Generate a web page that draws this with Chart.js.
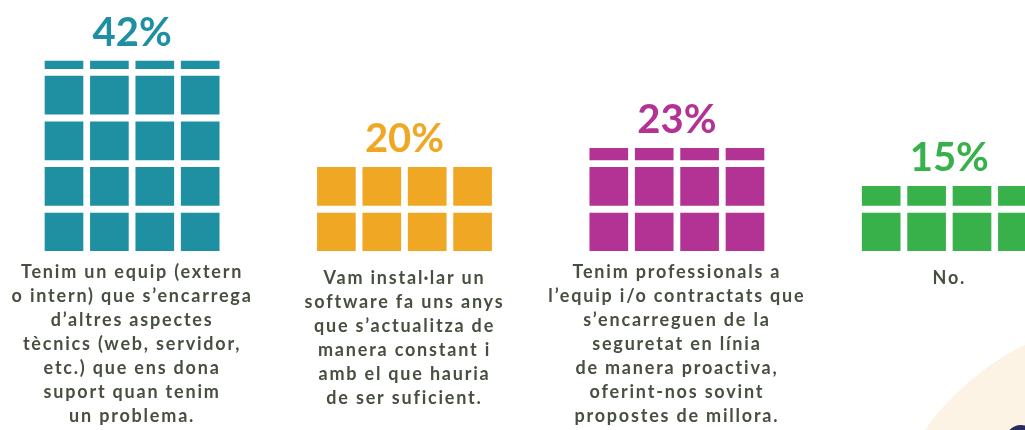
<!DOCTYPE html>
<html>
<head>
<meta charset="utf-8">
<script src="https://cdn.jsdelivr.net/npm/chart.js@4.4.1/dist/chart.umd.min.js"></script>
<style>
  body { margin: 0; background: #fff; }
  .box { width: 1025px; height: 430px; position: relative; }
</style>
</head>
<body>
<div class="box"><canvas id="chart"></canvas></div>
<script>
// values
const percentLabels = ['42%', '20%', '23%', '15%'];
const percentages = [42, 20, 23, 15];
const groupColors = ['#1f90a1', '#f0a824', '#b23393', '#38b14a'];
const descriptions = [
    ['Tenim un equip (extern', 'o intern) que s\u2019encarrega', 'd\u2019altres aspectes',
     't\u00e8cnics (web, servidor,', 'etc.) que ens dona', 'suport quan tenim', 'un problema.'],
    ['Vam instal\u00b7lar un', 'software fa uns anys', 'que s\u2019actualitza de',
     'manera constant i', 'amb el que hauria', 'de ser suficient.'],
    ['Tenim professionals a', 'l\u2019equip i/o contractats que', 's\u2019encarreguen de la',
     'seguretat en l\u00ednia', 'de manera proactiva,', 'oferint-nos sovint', 'propostes de millora.'],
    ['No.']
];

const COLS = 4;        // squares per row
const SLOTS = 6;       // columns per group incl. the empty space
const CELL = 10;       // one square = 10 %
const ROW_STEP = 12;   // square + gap, in scale units

// one dataset per row of squares
const rowCount = Math.max(...percentages.map(p => Math.ceil(p / CELL)));
const datasets = [];
for (let r = 0; r < rowCount; r++) {
    const pts = [];
    percentages.forEach((p, g) => {
        const left = p - r * CELL;
        if (left <= 0) return;
        for (let c = 0; c < COLS; c++) {
            pts.push({ x: g * SLOTS + c, y: [r * ROW_STEP, r * ROW_STEP + Math.min(CELL, left)], g: g });
        }
    });
    datasets.push({
        data: pts,
        grouped: false,
        barThickness: 38,
        backgroundColor: (ctx) => groupColors[ctx.raw ? ctx.raw.g : 0],
        borderWidth: 0
    });
}

function stackTop(p) {
    const full = Math.floor(p / CELL);
    const rem = p - full * CELL;
    return rem > 0 ? full * ROW_STEP + rem : (full - 1) * ROW_STEP + CELL;
}

const decoPlugin = {
    id: 'deco',
    beforeDraw(chart) {
        const ctx = chart.ctx;
        ctx.save();
        ctx.fillStyle = '#fdf3e4';
        ctx.beginPath();
        ctx.arc(1144, 586, 269, 0, Math.PI * 2);
        ctx.fill();
        ctx.fillStyle = '#262b5f';
        ctx.beginPath();
        ctx.arc(1021, 441, 16, 0, Math.PI * 2);
        ctx.fill();
        ctx.restore();
    }
};

const labelPlugin = {
    id: 'labels',
    afterDatasetsDraw(chart) {
        const ctx = chart.ctx;
        const xs = chart.scales.x, ys = chart.scales.y;
        ctx.save();
        ctx.textAlign = 'center';
        percentages.forEach((p, g) => {
            const cx = xs.getPixelForValue(g * SLOTS + (COLS - 1) / 2);
            ctx.fillStyle = groupColors[g];
            ctx.font = '700 40px Lato';
            ctx.letterSpacing = '0px';
            ctx.textBaseline = 'alphabetic';
            ctx.fillText(percentLabels[g], cx, ys.getPixelForValue(stackTop(p)) - 15);

            ctx.fillStyle = '#474f41';
            ctx.font = '700 18px Lato';
            ctx.letterSpacing = '1.8px';
            ctx.textBaseline = 'middle';
            const lines = descriptions[g];
            const y0 = lines.length > 6 ? 272 : 278;
            lines.forEach((line, i) => ctx.fillText(line, cx, y0 + i * 24));
        });
        ctx.restore();
    }
};

new Chart(document.getElementById('chart'), {
    type: 'bar',
    data: { datasets: datasets },
    options: {
        responsive: true,
        maintainAspectRatio: false,
        animation: false,
        layout: { padding: { top: 0, left: 0, right: 0, bottom: 179 } },
        plugins: { legend: { display: false }, tooltip: { enabled: false } },
        scales: {
            x: { type: 'linear', display: false, offset: false, min: -64 / 45.4, max: -64 / 45.4 + 1025 / 45.4 },
            y: { display: false, offset: false, min: 0, max: 251 / 3.8 }
        }
    },
    plugins: [decoPlugin, labelPlugin]
});
</script>
</body>
</html>
